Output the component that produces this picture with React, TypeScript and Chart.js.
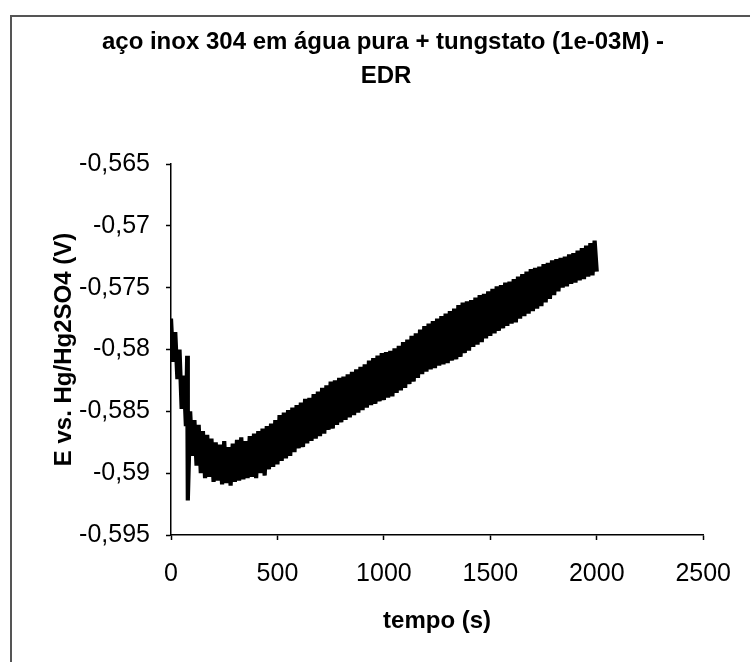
import React, { useEffect, useRef } from "react";
import { Chart, registerables } from "chart.js";

Chart.register(...registerables);

const FONT = "'Liberation Sans', Arial, Helvetica, sans-serif";

const titleLines = ["aço inox 304 em água pura + tungstato (1e-03M) -", "EDR"];
const xTitle = "tempo (s)";
const yTitle = "E vs. Hg/Hg2SO4 (V)";

const xTicks = [0, 500, 1000, 1500, 2000, 2500];
const yTicks = [-0.565, -0.57, -0.575, -0.58, -0.585, -0.59, -0.595];

const tempo = [
  0, 10, 20, 30, 40, 50, 60, 70, 76, 79, 90, 100, 110, 120, 130, 140, 150, 160, 170, 180,
  190, 200, 210, 220, 230, 240, 250, 260, 270, 280, 290, 300, 310, 320, 330, 340, 350, 360, 370, 380,
  390, 400, 410, 420, 430, 440, 450, 460, 470, 480, 490, 500, 510, 520, 530, 540, 550, 560, 570, 580,
  590, 600, 610, 620, 630, 640, 650, 660, 670, 680, 690, 700, 710, 720, 730, 740, 750, 760, 770, 780,
  790, 800, 810, 820, 830, 840, 850, 860, 870, 880, 890, 900, 910, 920, 930, 940, 950, 960, 970, 980,
  990, 1000, 1010, 1020, 1030, 1040, 1050, 1060, 1070, 1080, 1090, 1100, 1110, 1120, 1130, 1140, 1150, 1160, 1170, 1180,
  1190, 1200, 1210, 1220, 1230, 1240, 1250, 1260, 1270, 1280, 1290, 1300, 1310, 1320, 1330, 1340, 1350, 1360, 1370, 1380,
  1390, 1400, 1410, 1420, 1430, 1440, 1450, 1460, 1470, 1480, 1490, 1500, 1510, 1520, 1530, 1540, 1550, 1560, 1570, 1580,
  1590, 1600, 1610, 1620, 1630, 1640, 1650, 1660, 1670, 1680, 1690, 1700, 1710, 1720, 1730, 1740, 1750, 1760, 1770, 1780,
  1790, 1800, 1810, 1820, 1830, 1840, 1850, 1860, 1870, 1880, 1890, 1900, 1910, 1920, 1930, 1940, 1950, 1960, 1970, 1980,
  1990, 2000,
];

const potencial = [
  -0.5775, -0.581, -0.5786, -0.5824, -0.58, -0.5848, -0.5821, -0.5862, -0.5805, -0.5922, -0.585, -0.5886, -0.5857, -0.5894, -0.5861, -0.59, -0.5866, -0.5904, -0.5869, -0.5903,
  -0.5872, -0.5907, -0.5875, -0.5906, -0.5877, -0.5909, -0.5874, -0.5908, -0.5879, -0.591, -0.5876, -0.5907, -0.5873, -0.5906, -0.5871, -0.5905, -0.5874, -0.5904, -0.587, -0.5903,
  -0.5868, -0.5904, -0.5866, -0.59, -0.5864, -0.5902, -0.5862, -0.5897, -0.586, -0.5895, -0.5857, -0.5893, -0.5853, -0.589, -0.5851, -0.5888, -0.5849, -0.5886, -0.5847, -0.5883,
  -0.5845, -0.588, -0.5843, -0.5879, -0.584, -0.5876, -0.5839, -0.5874, -0.5836, -0.5872, -0.5834, -0.587, -0.5831, -0.5868, -0.5829, -0.5865, -0.5826, -0.5864, -0.5825, -0.5861,
  -0.5823, -0.5859, -0.5822, -0.5857, -0.582, -0.5855, -0.5818, -0.5853, -0.5816, -0.5851, -0.5814, -0.5849, -0.5812, -0.5847, -0.5809, -0.5845, -0.5807, -0.5844, -0.5805, -0.5842,
  -0.5803, -0.5841, -0.5802, -0.5839, -0.5801, -0.5838, -0.5799, -0.5835, -0.5797, -0.5833, -0.5794, -0.5831, -0.5792, -0.5828, -0.5789, -0.5826, -0.5787, -0.5823, -0.5784, -0.582,
  -0.5781, -0.5818, -0.5779, -0.5816, -0.5777, -0.5815, -0.5775, -0.5813, -0.5773, -0.5812, -0.5771, -0.5811, -0.5769, -0.5809, -0.5767, -0.5808, -0.5764, -0.5806, -0.5762, -0.5803,
  -0.5761, -0.5801, -0.576, -0.5798, -0.5758, -0.5796, -0.5756, -0.5794, -0.5755, -0.5791, -0.5753, -0.5789, -0.5751, -0.5787, -0.5749, -0.5785, -0.5748, -0.5783, -0.5746, -0.5781,
  -0.5745, -0.5779, -0.5743, -0.5778, -0.5741, -0.5775, -0.5739, -0.5773, -0.5737, -0.5771, -0.5735, -0.5769, -0.5734, -0.5767, -0.5733, -0.5765, -0.5731, -0.5762, -0.573, -0.5759,
  -0.5728, -0.5756, -0.5727, -0.5753, -0.5726, -0.575, -0.5725, -0.5749, -0.5723, -0.5747, -0.5722, -0.5746, -0.572, -0.5744, -0.5718, -0.5743, -0.5716, -0.5741, -0.5714, -0.574,
  -0.5712, -0.5737,
];

const fmt = (v: number) => String(Number(v.toFixed(4))).replace(".", ",");

const titlePlugin = {
  id: "customTitle",
  afterDraw(chart: any) {
    const { ctx } = chart;
    ctx.save();
    ctx.fillStyle = "#000";
    ctx.font = `bold 24px ${FONT}`;
    ctx.textAlign = "center";
    ctx.textBaseline = "middle";
    ctx.fillText(titleLines[0], 383, 42);
    ctx.fillText(titleLines[1], 386, 76);
    ctx.restore();
  },
};

export default function App() {
  const ref = useRef<HTMLCanvasElement | null>(null);

  useEffect(() => {
    if (!ref.current) return;
    const chart = new Chart(ref.current, {
      type: "line",
      data: {
        datasets: [
          {
            data: tempo.map((t, i) => ({ x: t, y: potencial[i] })),
            borderColor: "#000",
            borderWidth: 4.2,
            pointRadius: 0,
            tension: 0,
            fill: false,
            borderJoinStyle: "bevel",
          },
        ],
      },
      options: {
        animation: false,
        responsive: false,
        devicePixelRatio: 1,
        layout: { padding: { top: 164, right: 37, left: 0, bottom: 0 } },
        plugins: {
          legend: { display: false },
          title: { display: false },
          tooltip: { enabled: false },
        },
        scales: {
          x: {
            type: "linear",
            min: 0,
            max: 2500,
            afterBuildTicks: (s: any) => {
              s.ticks = xTicks.map((v) => ({ value: v }));
            },
            afterFit: (s: any) => {
              s.height = 127;
            },
            grid: { drawOnChartArea: false, drawTicks: true, tickLength: 5, color: "#000", tickWidth: 1.5 },
            border: { display: true, color: "#000", width: 1.5 },
            ticks: {
              color: "#000",
              font: { family: FONT, size: 25 },
              padding: 19,
              maxRotation: 0,
              autoSkip: false,
              callback: (v: any) => String(v),
            },
            title: {
              display: true,
              text: xTitle,
              color: "#000",
              font: { family: FONT, size: 24, weight: "bold" },
              padding: { top: 0, bottom: 26 },
            },
          },
          y: {
            type: "linear",
            min: -0.595,
            max: -0.565,
            afterBuildTicks: (s: any) => {
              s.ticks = yTicks.map((v) => ({ value: v }));
            },
            afterFit: (s: any) => {
              s.width = 171;
            },
            grid: { drawOnChartArea: false, drawTicks: true, tickLength: 5, color: "#000", tickWidth: 1.5 },
            border: { display: true, color: "#000", width: 1.5 },
            ticks: {
              color: "#000",
              font: { family: FONT, size: 25 },
              padding: 16,
              autoSkip: false,
              callback: (v: any) => fmt(Number(v)),
            },
            title: {
              display: true,
              text: yTitle,
              color: "#000",
              font: { family: FONT, size: 24, weight: "bold" },
              padding: { top: 50, bottom: 0 },
            },
          },
        },
      },
      plugins: [titlePlugin],
    });
    return () => chart.destroy();
  }, []);

  return (
    <div style={{ position: "fixed", left: 0, top: 0, width: 750, height: 662, background: "#fff" }}>
      <canvas ref={ref} width={750} height={662} style={{ width: 750, height: 662, display: "block" }} />
      <div
        style={{
          position: "absolute",
          left: 10,
          top: 15,
          width: 760,
          height: 700,
          borderTop: "2px solid #555",
          borderLeft: "2px solid #555",
          pointerEvents: "none",
        }}
      />
    </div>
  );
}
